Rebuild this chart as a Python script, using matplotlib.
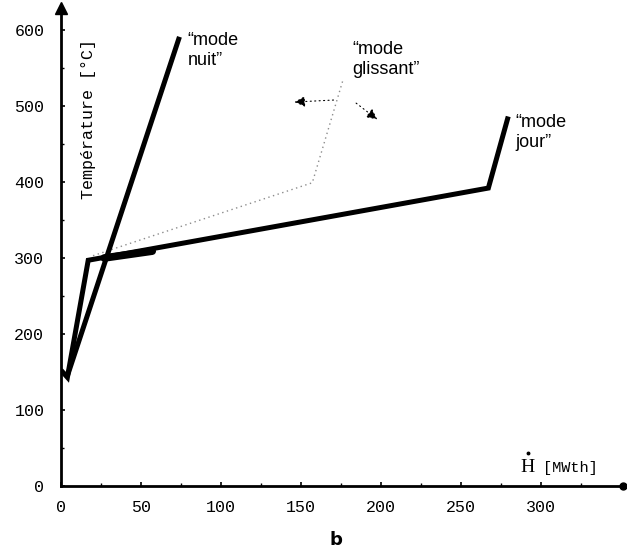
import matplotlib.pyplot as plt

# courbes de fonctionnement (H en MWth, T en degC)
nuit_h = [4, 74]
nuit_t = [145, 591]

jour_h = [1, 4, 17, 267, 279]
jour_t = [150, 143, 297, 392, 483]

# portion commune epaissie
commun_h = [27, 57]
commun_t = [300, 309]

glissant_h = [20, 157, 176]
glissant_t = [303, 399, 533]

x_ticks = [0, 50, 100, 150, 200, 250, 300]
y_ticks = [0, 100, 200, 300, 400, 500, 600]

fig = plt.figure(figsize=(6.27, 5.52), dpi=100)
ax = fig.add_axes([0.0973, 0.1196, 0.896, 0.866])
ax.set_xlim(0, 351)
ax.set_ylim(0, 629)

for s in ['top', 'right']:
    ax.spines[s].set_visible(False)
for s in ['left', 'bottom']:
    ax.spines[s].set_linewidth(2)

# fleches au bout des axes
ax.plot(0, 1, '^', color='black', ms=8, transform=ax.get_xaxis_transform(), clip_on=False)
ax.plot(1, 0, 'o', color='black', ms=5, transform=ax.get_yaxis_transform(), clip_on=False)

ax.set_xticks(x_ticks)
ax.set_yticks(y_ticks)
ax.set_xticks([25, 75, 125, 175, 225, 275, 325], minor=True)
ax.set_yticks([50, 150, 250, 350, 450, 550], minor=True)
ax.tick_params(direction='in', length=3, width=1.2, labelsize=12)
ax.tick_params(which='minor', direction='in', length=2, width=1)
ax.tick_params(axis='x', pad=10)
ax.tick_params(axis='y', pad=12)
for lab in ax.get_xticklabels() + ax.get_yticklabels():
    lab.set_family('Liberation Mono')

ax.plot(glissant_h, glissant_t, color='0.55', lw=1, ls=(0, (1, 2.5)))
ax.plot(nuit_h, nuit_t, color='black', lw=3.6, solid_capstyle='butt')
ax.plot(jour_h, jour_t, color='black', lw=3.6, solid_joinstyle='miter')
ax.plot(commun_h, commun_t, color='black', lw=5.5, solid_capstyle='round')

# fleches du mode glissant
ax.annotate('', xy=(144, 505), xytext=(172, 508),
            arrowprops=dict(arrowstyle='-|>', ls=(0, (1, 3)), color='black',
                            lw=0.8, mutation_scale=16))
ax.annotate('', xy=(199, 480), xytext=(183, 506),
            arrowprops=dict(arrowstyle='-|>', ls=(0, (1, 3)), color='black',
                            lw=0.8, mutation_scale=16))

fs = 13
ax.text(79, 597, '\u201cmode\nnuit\u201d', fontsize=fs, family='Liberation Sans',
        va='top', ha='left', linespacing=1.2)
ax.text(182, 585, '\u201cmode\nglissant\u201d', fontsize=fs, family='Liberation Sans',
        va='top', ha='left', linespacing=1.2)
ax.text(284, 489, '\u201cmode\njour\u201d', fontsize=fs, family='Liberation Sans',
        va='top', ha='left', linespacing=1.2)

ax.text(17, 483, 'Température [°C]', rotation=90, fontsize=12,
        family='Liberation Mono', ha='center', va='center')

ax.text(287, 13, 'H', fontsize=14, family='Liberation Serif', ha='left', va='bottom')
ax.plot(291.5, 44, 'o', color='black', ms=1.8)
ax.text(301, 15, '[MWth]', fontsize=11, family='Liberation Mono', ha='left', va='bottom')

fig.text(0.535, 0.005, 'b', fontsize=13, fontweight='bold', family='DejaVu Sans',
         ha='center', va='bottom')

fig.savefig('out.png', dpi=100)
